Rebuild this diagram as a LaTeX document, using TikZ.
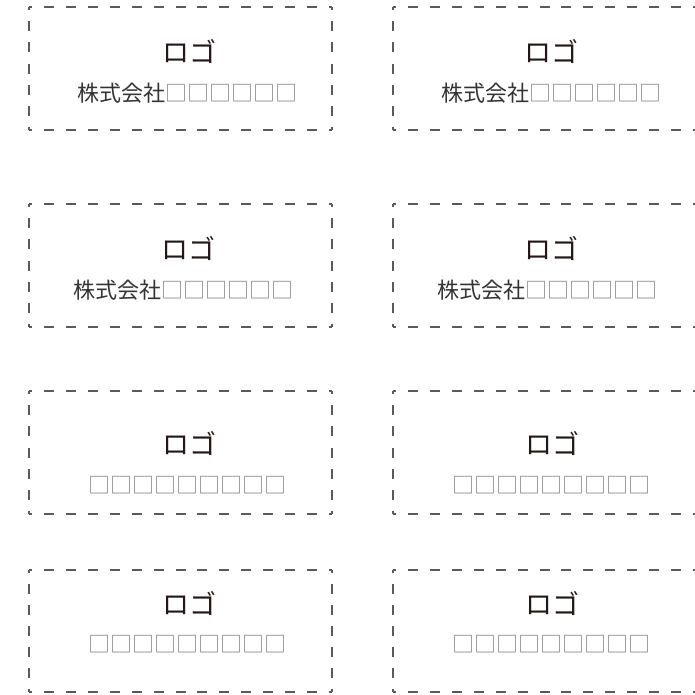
\documentclass[tikz,border=0pt]{standalone}
\usepackage{fontspec}
\newfontfamily\jp{Noto Sans CJK JP}
\definecolor{linegray}{HTML}{5A5A5A}
\definecolor{txtdark}{HTML}{333333}
\definecolor{logodark}{HTML}{231815}
\definecolor{boxgray}{HTML}{878787}
\tikzset{
  hside/.style={draw=linegray, line width=1.2pt, dash pattern=on 10pt off 11.93pt, dash phase=7pt},
  vside/.style={draw=linegray, line width=1.2pt, dash pattern=on 10pt off 11.17pt, dash phase=7pt},
  vsideshort/.style={draw=linegray, line width=1.2pt, dash pattern=on 10pt off 11pt, dash phase=7pt},
  logo/.style={font=\jp\fontsize{27}{27}\selectfont, text=logodark, inner sep=0pt, anchor=center},
  company/.style={font=\jp\fontsize{22}{22}\selectfont, text=txtdark, inner sep=0pt, anchor=center},
  blanks/.style={font=\jp\fontsize{22}{22}\selectfont, text=boxgray, inner sep=0pt, anchor=center},
}
\newcommand\cardframe[4]{%
  \draw[hside] (#1,#2) -- (#1+303,#2);
  \draw[hside] (#1,#3) -- (#1+303,#3);
  \draw[#4] (#1,#2) -- (#1,#3);
  \draw[#4] (#1+303,#2) -- (#1+303,#3);
}
\newcommand\sq{\textcolor{boxgray}{□}}
\begin{document}
\begin{tikzpicture}[x=1pt,y=-1pt]
\useasboundingbox (0,0) rectangle (694,695);
% frames
\cardframe{29}{7}{130}{vside}
\cardframe{393}{7}{130}{vside}
\cardframe{29}{204}{327}{vside}
\cardframe{393}{204}{327}{vside}
\cardframe{29}{391}{514}{vside}
\cardframe{393}{391}{514}{vside}
\cardframe{29}{570}{692}{vsideshort}
\cardframe{393}{570}{692}{vsideshort}
% row 1
\node[logo] (logoA) at (189,51) {ロゴ};
\node[company] (compA) at (187,93.5) {株式会社\sq\sq\sq\sq\sq\sq};
\node[logo] (logoB) at (551,51) {ロゴ};
\node[company] (compB) at (551,93.5) {株式会社\sq\sq\sq\sq\sq\sq};
% row 2
\node[logo] (logoC) at (188,248) {ロゴ};
\node[company] (compC) at (183,290) {株式会社\sq\sq\sq\sq\sq\sq};
\node[logo] (logoD) at (551,248) {ロゴ};
\node[company] (compD) at (547,290) {株式会社\sq\sq\sq\sq\sq\sq};
% row 3
\node[logo] (logoE) at (189,443) {ロゴ};
\node[blanks] (blankE) at (187,485) {□□□□□□□□□};
\node[logo] (logoF) at (552,443) {ロゴ};
\node[blanks] (blankF) at (551,485) {□□□□□□□□□};
% row 4
\node[logo] (logoG) at (189,603) {ロゴ};
\node[blanks] (blankG) at (187,644) {□□□□□□□□□};
\node[logo] (logoH) at (552,603) {ロゴ};
\node[blanks] (blankH) at (551,644) {□□□□□□□□□};
\end{tikzpicture}
\end{document}
